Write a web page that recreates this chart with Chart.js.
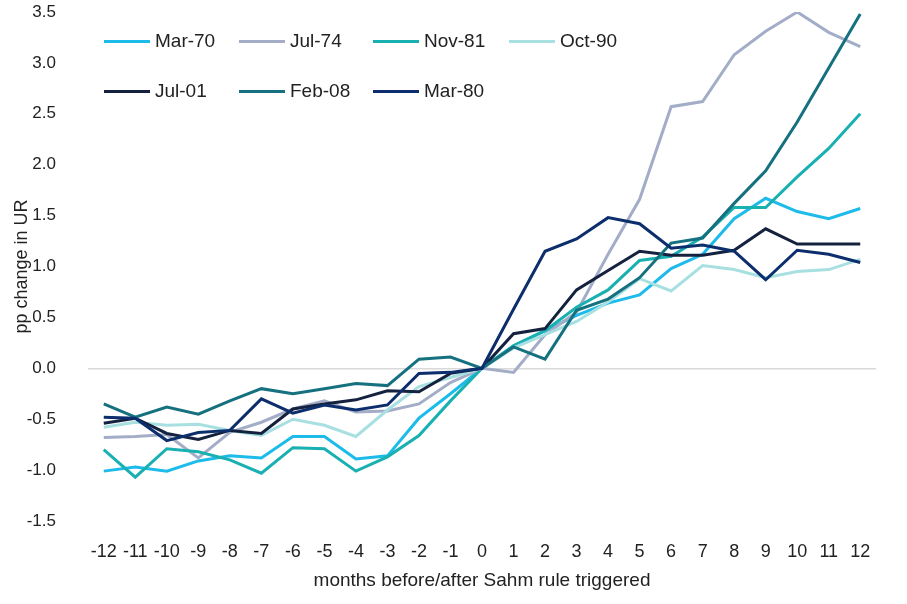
<!DOCTYPE html>
<html>
<head>
<meta charset="utf-8">
<script src="https://cdn.jsdelivr.net/npm/chart.js@4.4.1/dist/chart.umd.min.js"></script>
<style>
  html, body { margin: 0; padding: 0; background: #ffffff; }
  #wrap { position: relative; width: 907px; height: 604px; }
  #legend { position: absolute; left: 0; top: 0; width: 907px; height: 120px; pointer-events: none;
    font-family: 'Liberation Sans', Arial, sans-serif; font-size: 19px; color: #222; }
  .li { position: absolute; display: flex; align-items: center; white-space: nowrap; }
  .sw { width: 46px; height: 3px; margin-right: 5px; }
</style>
</head>
<body>
<div id="wrap">
  <canvas id="c" width="907" height="604"></canvas>
  <div id="legend"></div>
</div>
<script>
const months = ["-12","-11","-10","-9","-8","-7","-6","-5","-4","-3","-2","-1","0","1","2","3","4","5","6","7","8","9","10","11","12"];
const seriesNames = ["Mar-70","Jul-74","Nov-81","Oct-90","Jul-01","Feb-08","Mar-80"];
const mar70 = [-1.01,-0.97,-1.01,-0.91,-0.86,-0.88,-0.67,-0.67,-0.89,-0.86,-0.49,-0.25,0,0.22,0.37,0.52,0.64,0.72,0.98,1.12,1.47,1.67,1.54,1.47,1.57];
const jul74 = [-0.68,-0.67,-0.65,-0.88,-0.63,-0.53,-0.40,-0.32,-0.43,-0.42,-0.35,-0.14,0,-0.04,0.33,0.55,1.12,1.66,2.57,2.62,3.08,3.31,3.50,3.30,3.16];
const nov81 = [-0.80,-1.07,-0.79,-0.82,-0.90,-1.03,-0.78,-0.79,-1.01,-0.87,-0.66,-0.32,0,0.22,0.37,0.60,0.77,1.06,1.10,1.29,1.58,1.58,1.88,2.16,2.50];
const oct90 = [-0.58,-0.53,-0.56,-0.55,-0.61,-0.66,-0.50,-0.56,-0.67,-0.41,-0.18,-0.09,0,0.20,0.33,0.46,0.65,0.88,0.76,1.01,0.97,0.89,0.95,0.97,1.07];
const jul01 = [-0.54,-0.49,-0.64,-0.70,-0.61,-0.64,-0.40,-0.35,-0.31,-0.22,-0.23,-0.05,0,0.34,0.39,0.77,0.96,1.15,1.11,1.11,1.16,1.37,1.22,1.22,1.22];
const feb08 = [-0.35,-0.48,-0.38,-0.45,-0.32,-0.20,-0.25,-0.20,-0.15,-0.17,0.09,0.11,0,0.21,0.09,0.57,0.68,0.89,1.23,1.28,1.62,1.94,2.42,2.95,3.48];
const mar80 = [-0.48,-0.49,-0.71,-0.63,-0.61,-0.30,-0.44,-0.36,-0.41,-0.36,-0.05,-0.04,0,0.58,1.15,1.27,1.48,1.42,1.18,1.21,1.15,0.87,1.16,1.12,1.04];
const yTicks = [-1.5,-1.0,-0.5,0.0,0.5,1.0,1.5,2.0,2.5,3.0,3.5];

const seriesData = [mar70, jul74, nov81, oct90, jul01, feb08, mar80];
const colors = ["#1cbbe9","#a3adc8","#19b0b1","#a8e0e2","#15223f","#15717f","#0d2e6c"];

const FONT = "'Liberation Sans', Arial, sans-serif";

const datasets = seriesNames.map((name, i) => ({
  label: name,
  data: seriesData[i],
  borderColor: colors[i],
  backgroundColor: colors[i],
  borderWidth: 3,
  pointRadius: 0,
  pointHoverRadius: 0,
  tension: 0,
  fill: false,
  order: seriesNames.length - i
}));

const chart = new Chart(document.getElementById('c'), {
  type: 'line',
  data: { labels: months, datasets },
  options: {
    responsive: false,
    animation: false,
    layout: { padding: { top: 12, right: 31, left: 0, bottom: 0 } },
    plugins: { legend: { display: false }, tooltip: { enabled: false } },
    scales: {
      x: {
        type: 'category',
        offset: true,
        grid: { display: false, drawTicks: false },
        border: { display: false },
        ticks: { color: '#222', font: { family: FONT, size: 18 }, padding: 20, maxRotation: 0, autoSkip: false },
        title: { display: true, text: 'months before/after Sahm rule triggered', color: '#222',
                 font: { family: FONT, size: 19 }, padding: { top: 0, bottom: 12 } },
        afterFit: (s) => { s.height = 83; s.paddingLeft = 0; s.paddingRight = 0; }
      },
      y: {
        min: -1.5, max: 3.5,
        afterBuildTicks: (s) => { s.ticks = yTicks.map(v => ({ value: v })); },
        grid: {
          drawTicks: false,
          color: (ctx) => (ctx.tick && ctx.tick.value === 0 ? '#d9d9d9' : 'rgba(0,0,0,0)'),
          lineWidth: 1.5
        },
        border: { display: false },
        ticks: { color: '#222', font: { family: FONT, size: 17 }, padding: 32,
                 callback: (v) => Number(v).toFixed(1) },
        title: { display: true, text: 'pp change in UR', color: '#222',
                 font: { family: FONT, size: 18 }, padding: { top: 11, bottom: 0 } },
        afterFit: (s) => { s.width = 88; s.paddingTop = 0; s.paddingBottom = 0; }
      }
    }
  }
});

// HTML legend built from the chart's datasets
const legendEl = document.getElementById('legend');
const colX = [104, 239, 373, 509];
const rowY = [41, 91];
chart.data.datasets.forEach((ds, i) => {
  const row = i < 4 ? 0 : 1;
  const col = i < 4 ? i : i - 4;
  const item = document.createElement('div');
  item.className = 'li';
  item.style.left = colX[col] + 'px';
  item.style.top = (rowY[row] - 12) + 'px';
  item.style.height = '24px';
  const sw = document.createElement('span');
  sw.className = 'sw';
  sw.style.background = ds.borderColor;
  const tx = document.createElement('span');
  tx.textContent = ds.label;
  item.appendChild(sw);
  item.appendChild(tx);
  legendEl.appendChild(item);
});
</script>
</body>
</html>
